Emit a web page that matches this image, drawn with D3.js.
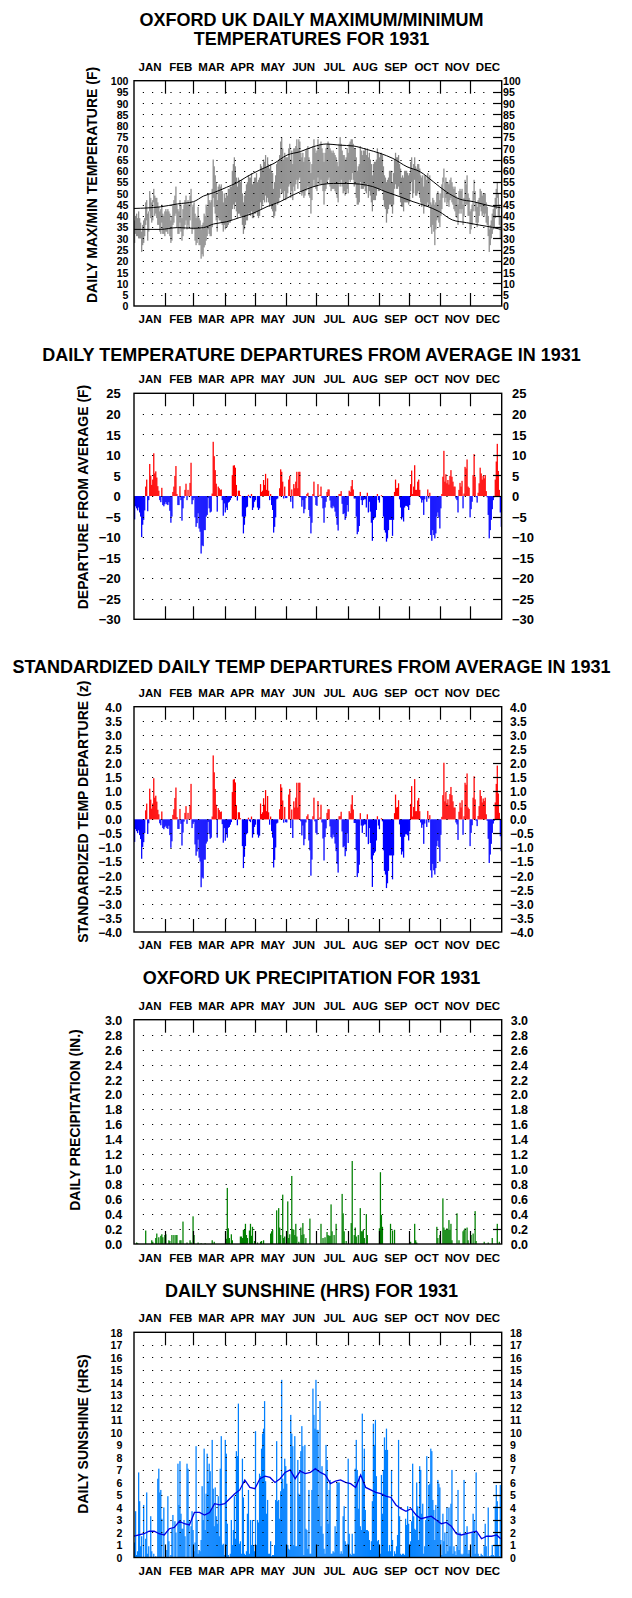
<!DOCTYPE html>
<html>
<head>
<meta charset="utf-8">
<script src="https://cdn.jsdelivr.net/npm/d3@7"></script>
<style>
    body { margin: 0; background: #fff; }
    text { font-family: "Liberation Sans", Arial, sans-serif; font-weight: bold; fill: #000; }
</style>
</head>
<body>
<div id="chart"></div>
<script>
// month names, month boundaries (day of year)
var months = ['JAN', 'FEB', 'MAR', 'APR', 'MAY', 'JUN', 'JUL', 'AUG', 'SEP', 'OCT', 'NOV', 'DEC'];
var monthStarts = [31, 59, 90, 120, 151, 181, 212, 243, 273, 304, 334];

// daily max / min temperature (F)
var tempMax = [
    38,40,41,39,42,39,37,33,36,38,39,46,47,41,42,51,48,46,47,52,49,48,48,46,44,42,43,45,41,40,42,
    43,42,43,42,41,38,40,45,47,49,53,45,43,42,47,45,39,43,45,47,49,45,47,45,49,52,44,45,
    46,41,39,40,44,39,38,34,36,37,41,40,45,44,50,47,46,47,52,65,62,58,55,47,53,54,53,54,51,46,50,
    48,50,49,52,52,53,53,60,63,66,62,57,53,57,56,55,56,50,46,49,51,54,55,58,57,57,59,54,55,57,
    57,59,55,56,57,63,62,61,65,64,67,62,66,63,61,63,60,59,52,55,58,63,64,65,67,73,75,70,65,68,66,
    66,66,70,72,65,69,63,70,70,71,74,70,74,73,68,66,68,64,66,69,70,71,66,64,59,63,71,74,70,68,
    69,74,71,72,73,70,68,64,68,70,72,73,72,70,69,68,69,68,67,66,64,62,72,75,72,69,67,67,65,66,70,
    68,72,73,74,74,72,70,70,66,60,62,63,71,69,67,69,69,70,67,70,66,68,65,63,58,63,64,64,65,70,68,
    66,68,68,67,62,58,57,55,56,57,60,60,60,55,59,65,68,66,66,67,63,61,57,58,57,60,60,60,59,58,
    59,64,66,61,63,66,62,61,63,63,61,58,57,58,53,58,58,56,59,57,58,46,45,48,47,45,46,50,51,50,47,
    50,54,57,61,55,57,55,55,54,56,57,55,53,52,53,49,48,45,51,52,51,52,45,48,56,54,58,50,48,42,
    43,45,51,56,51,46,44,47,48,52,51,49,50,50,50,46,44,40,34,36,38,41,43,44,48,52,55,50,45,40,35
];
var tempMin = [
    28,32,31,31,30,30,30,24,27,28,31,36,38,29,33,42,39,37,38,46,40,41,39,36,36,33,32,37,32,32,31,
    33,33,32,34,31,28,29,36,37,40,41,35,32,32,37,33,29,31,34,36,38,34,36,35,38,44,32,34,
    34,29,27,28,30,27,27,21,23,22,26,27,29,31,34,32,31,31,35,48,44,41,38,33,39,38,38,37,36,33,36,
    34,35,35,36,37,37,38,43,45,43,46,42,39,41,41,40,40,36,32,34,36,38,38,41,41,40,42,39,39,41,
    41,42,40,39,40,46,43,45,47,46,49,46,48,46,44,45,43,42,39,40,42,46,45,46,48,52,50,50,47,51,47,
    48,50,53,54,48,51,47,53,51,54,56,52,56,57,51,49,50,48,49,51,52,53,49,48,41,47,53,56,53,52,
    51,57,54,54,56,54,51,45,51,52,55,56,57,53,51,52,52,52,51,50,48,46,55,53,56,53,50,51,49,50,52,
    50,56,55,56,59,56,53,54,48,45,45,46,55,52,52,52,53,51,50,54,48,51,49,46,42,47,47,47,49,52,51,
    51,52,52,51,47,44,43,37,41,43,45,45,44,41,45,52,54,52,52,53,49,46,44,44,42,46,46,46,46,45,
    46,51,55,48,50,56,49,49,50,51,48,46,44,45,41,44,45,44,46,44,45,35,32,36,33,27,34,38,39,37,35,
    40,43,48,55,46,48,45,46,44,47,48,46,45,43,42,40,39,36,41,43,41,43,36,40,45,45,45,40,40,32,
    34,36,42,47,42,37,35,37,40,44,42,40,41,40,41,37,36,31,24,27,30,32,34,35,39,43,48,40,36,30,26
];

// normal max / min curves (day of year, F)
var normMaxDays = [0, 26, 43, 59, 69, 79, 92, 102, 112, 125, 139, 152, 165, 178, 191, 204, 218, 231, 244, 257, 271, 284, 297, 310, 323, 337, 350, 364];
var normMax = [43.3, 44.0, 45.3, 46.3, 48.8, 50.3, 52.7, 54.7, 57.4, 60.4, 63.3, 67.0, 68.5, 70.7, 71.9, 71.4, 71.0, 69.5, 67.8, 65.5, 61.8, 59.6, 55.2, 50.7, 47.5, 46.3, 44.8, 43.6];
var normMinDays = [0, 26, 43, 59, 69, 79, 92, 105, 118, 132, 145, 158, 171, 184, 198, 211, 224, 237, 250, 264, 277, 290, 303, 316, 330, 343, 356, 364];
var normMin = [34.0, 34.0, 34.8, 34.5, 34.8, 36.4, 37.4, 39.3, 41.1, 44.1, 46.3, 49.3, 51.8, 53.7, 54.4, 54.4, 54.1, 53.0, 50.7, 48.5, 46.3, 44.4, 41.9, 38.2, 37.0, 35.9, 34.9, 34.0];

// daily departure from average (F)
var tempDepart = [
    -5.7,-2.5,-3,-3.5,-2.8,-4,-5,-10,-7,-5.8,-3.5,2.3,4,-3.7,-1,7.8,5,2.7,4,10.4,5.5,6,4.5,2.4,1.3,-1,-1.5,2,-2.2,-2.5,-2,
    -1.5,-2,-2.2,-1.5,-3.6,-6.5,-5,1,2.3,4.9,7.3,0.5,-2.2,-2.2,2.4,-1,-6,-3,-0.5,1.5,3,-1,1.5,0,3.2,8.1,-2,-1,
    -0.5,-5.2,-7.5,-6.6,-4.2,-7.9,-8.7,-14,-12,-12.2,-8.3,-8.3,-5,-4.6,-0.5,-3,-4,-3.8,0.6,13.2,9.7,6.3,3,-3.8,2.3,1.9,1.5,1.6,-1,-4.8,-1.8,
    -4,-2.8,-3.4,-1.6,-1.4,-1,-0.5,5.1,7.4,7.5,6.9,2.7,-1.1,1.3,1.3,0.2,0,-5,-9.1,-7,-5,-2.8,-2.6,0.3,-0.3,-0.5,0.5,-3.4,-2.8,-1.4,
    -1,0,-2.8,-3.4,-3,2.9,1,1.3,3.9,2.7,5.4,1.5,4.3,1.3,-1,0.5,-2.2,-3.4,-8.9,-7.5,-5.2,-0.8,-0.6,0,1.9,6.5,5.9,3.5,-0.6,2.3,-0.5,
    -0.5,0,4,4.9,-1.4,1.6,-3,2.9,1.9,3.5,5.9,1.9,5.9,5.9,-0.3,-2.6,-1,-4.2,-3.2,-0.5,0.5,0.8,-3.4,-5,-9.1,-6.5,0.5,3.5,-0.3,-2.2,
    -2.4,2.9,0,0.3,2.3,-0.5,-3,-6.5,-2.8,-1.4,1,1.6,1.6,-1.1,-2.8,-3,-2.4,-2.8,-3.8,-5,-7,-8.4,0.5,0.5,1.2,-1.9,-4.4,-4.2,-5.8,-5,-2.2,
    -3.8,1.3,1,2.4,3.9,1.6,-0.6,-0.6,-5,-9.3,-8.7,-7.3,1,-1,-2.2,-1,-0.8,-0.8,-2.8,0.8,-4,-1.4,-3.8,-6.5,-10.9,-5.8,-5.4,-5.2,-3.4,0.5,-1,
    -1.6,0,0.2,-0.3,-5,-8.3,-8.9,-11.1,-10.3,-8.3,-5.8,-5.8,-5.8,-9.7,-5.8,1,4,1.9,2,3.1,-0.8,-2.8,-5.7,-5.2,-6.2,-2.8,-2.4,-2.4,-2.6,-3.4,
    -2.2,2.9,6.2,0.5,2.3,7.5,1.5,1.5,3.5,4,1.5,-0.6,-1.6,-1,-4.6,-0.8,0,-1.4,1.6,-0.6,0.8,-9.5,-10.9,-8.3,-9.5,-10.3,-9.1,-5,-4,-5.2,-7.9,
    -3,0.5,4.7,11,3.5,5.3,3.1,3.9,2.8,4.9,6.3,4.7,3.5,2.3,2.3,-0.6,-1,-4,1.5,3.2,2.3,3.7,-3,0.6,7.1,6.7,8.9,2.3,2,-5.2,
    -3.2,-1.4,5.1,10.2,4.7,-0.3,-1.6,0.8,3.1,6.9,5.5,4,4.9,4.3,5.1,1.2,-0.3,-4.6,-10.3,-8.3,-5.8,-3.2,-1,-0.3,4,8.4,12.7,6.1,1.5,-4,-7.5
];

// standardized departures (z)
var tempZ = [
    -0.80,-0.35,-0.42,-0.49,-0.39,-0.56,-0.70,-1.40,-0.98,-0.81,-0.49,0.32,0.56,-0.52,-0.14,1.09,0.70,0.38,0.56,1.46,0.77,0.84,0.63,0.34,0.18,-0.14,-0.21,0.28,-0.31,-0.35,-0.28,
    -0.23,-0.31,-0.34,-0.23,-0.56,-1.01,-0.78,0.16,0.36,0.76,1.13,0.08,-0.34,-0.34,0.37,-0.16,-0.93,-0.47,-0.08,0.23,0.47,-0.16,0.23,0,0.50,1.26,-0.31,-0.16,
    -0.09,-0.89,-1.29,-1.14,-0.72,-1.36,-1.50,-2.41,-2.06,-2.10,-1.43,-1.43,-0.86,-0.79,-0.09,-0.52,-0.69,-0.65,0.10,2.27,1.67,1.08,0.52,-0.65,0.40,0.33,0.26,0.28,-0.17,-0.83,-0.31,
    -0.76,-0.53,-0.65,-0.30,-0.27,-0.19,-0.10,0.97,1.41,1.43,1.31,0.51,-0.21,0.25,0.25,0.04,0,-0.95,-1.73,-1.33,-0.95,-0.53,-0.49,0.06,-0.06,-0.10,0.10,-0.65,-0.53,-0.27,
    -0.19,0,-0.54,-0.65,-0.58,0.56,0.19,0.25,0.75,0.52,1.04,0.29,0.83,0.25,-0.19,0.10,-0.42,-0.65,-1.71,-1.44,-1.00,-0.15,-0.12,0,0.36,1.25,1.13,0.67,-0.12,0.44,-0.10,
    -0.11,0,0.88,1.08,-0.31,0.35,-0.66,0.64,0.42,0.77,1.30,0.42,1.30,1.30,-0.07,-0.57,-0.22,-0.92,-0.70,-0.11,0.11,0.18,-0.75,-1.10,-2.00,-1.43,0.11,0.77,-0.07,-0.48,
    -0.54,0.65,0,0.07,0.52,-0.11,-0.68,-1.46,-0.63,-0.32,0.23,0.36,0.36,-0.25,-0.63,-0.68,-0.54,-0.63,-0.86,-1.13,-1.58,-1.89,0.11,0.11,0.27,-0.43,-0.99,-0.95,-1.31,-1.13,-0.50,
    -0.84,0.29,0.22,0.53,0.86,0.35,-0.13,-0.13,-1.10,-2.05,-1.91,-1.61,0.22,-0.22,-0.48,-0.22,-0.18,-0.18,-0.62,0.18,-0.88,-0.31,-0.84,-1.43,-2.40,-1.28,-1.19,-1.14,-0.75,0.11,-0.22,
    -0.35,0,0.04,-0.07,-1.10,-1.83,-1.96,-2.44,-2.27,-1.83,-1.28,-1.28,-1.28,-2.13,-1.28,0.22,0.88,0.42,0.44,0.68,-0.18,-0.62,-1.25,-1.14,-1.36,-0.62,-0.53,-0.53,-0.57,-0.75,
    -0.42,0.55,1.18,0.10,0.44,1.43,0.29,0.29,0.67,0.76,0.29,-0.11,-0.30,-0.19,-0.87,-0.15,0,-0.27,0.30,-0.11,0.15,-1.81,-2.07,-1.58,-1.81,-1.96,-1.73,-0.95,-0.76,-0.99,-1.50,
    -0.55,0.09,0.86,2.01,0.64,0.97,0.57,0.71,0.51,0.90,1.15,0.86,0.64,0.42,0.42,-0.11,-0.18,-0.73,0.27,0.59,0.42,0.68,-0.55,0.11,1.30,1.23,1.63,0.42,0.37,-0.95,
    -0.48,-0.21,0.77,1.53,0.71,-0.05,-0.24,0.12,0.47,1.04,0.83,0.60,0.74,0.65,0.77,0.18,-0.05,-0.69,-1.55,-1.25,-0.87,-0.48,-0.15,-0.05,0.60,1.26,1.91,0.92,0.23,-0.60,-1.13
];

// daily precipitation (in.)
var precip = [
    0,0,.02,.01,0,0,0,0,0,0,0,.18,0,0,0,0,0,.05,.03,0,0,.08,.14,0,.09,0,.11,.13,.09,0,.12,
    .13,0,0,.05,.04,0,.12,0,.12,0,.12,.12,0,0,.05,.05,0,.30,0,0,0,.02,0,0,.05,.02,0,.37,
    .12,0,0,0,.02,0,0,.01,0,0,0,.01,0,0,0,0,0,0,.05,0,.03,0,0,0,0,0,0,0,0,0,0,
    0,.07,.75,.21,.08,0,.13,.05,0,0,0,0,0,0,0,.10,.10,.08,.19,.19,.27,.12,.08,0,.18,.27,.11,.23,0,.04,
    0,0,.02,0,0,.03,.04,0,.05,0,0,0,0,0,0,.14,.17,.19,0,0,0,.45,0,.48,.22,.12,0,.66,.08,.10,0,
    .12,.57,.08,.13,0,.91,.20,.19,.12,.27,.10,0,.03,0,.22,.12,.28,.13,0,.08,0,0,0,.34,0,0,0,0,0,0,
    0,0,0,0,.27,0,.08,0,.09,0,.16,.12,.11,.11,.53,.17,0,.12,0,.27,0,0,0,0,0,.67,.41,.17,0,.04,0,
    0,0,0,.28,1.11,0,.12,.22,.10,0,.12,0,.48,.17,.17,.19,.08,0,.40,.12,0,0,0,0,0,0,0,0,0,0,0,
    .21,.96,.39,.23,0,0,0,0,0,0,0,.27,0,.18,0,.19,0,0,0,0,0,0,0,0,0,0,0,0,0,0,
    0,.03,0,0,0,.27,.05,.02,0,0,0,0,0,0,0,0,0,0,0,0,0,0,0,0,0,0,0,.23,.08,0,.12,
    0,0,.61,.22,.19,.19,.21,.19,.32,.19,.27,.05,0,0,0,0,.41,0,.05,0,0,0,.17,.19,.21,0,.22,.05,0,0,
    .12,0,.14,0,.44,.04,0,0,0,0,0,0,0,.03,0,0,0,.02,0,0,0,.08,0,0,0,0,.27,0,.03,0,0
];

// daily sunshine (hrs)
var sunshine = [
    1.2,3.7,0.2,0.5,6.8,4.5,0.9,1.7,0,4.2,0,1.5,5.2,0.3,0.9,0,3.3,0.5,0,0.3,0,0.1,0,6.3,7.1,5.2,5.4,3.1,0,4.0,0,
    0,0.6,4.9,1.3,0,0.2,2.3,3.4,0,2.9,2.0,0,7.5,4.2,7.7,3.5,2.3,2.3,3.0,1.7,0,7.5,7.1,2.9,0,2.5,3.7,2.2,
    0.5,1.2,8.9,3.0,0.3,0.6,0.5,1.4,5.7,3.0,8.7,2.2,5.1,8.3,6.1,7.5,6.9,3.9,9.4,5.5,2.5,5.6,3.3,2.7,4.9,1.7,7.1,9.7,1.0,1.1,0.2,
    9.4,8.3,2.7,0.2,0,0.3,3.0,1.0,2.2,4.9,1.5,8.5,8.1,12.3,1.1,1.3,0.3,7.9,4.8,0.3,0.2,0.5,3.5,5.4,0.3,3.0,1.0,3.0,1.0,0.5,
    10.1,1.0,3.0,2.8,6.7,6.5,8.7,9.9,10.3,12.5,6.1,3.5,4.6,0.3,0.3,1.3,0.1,0.2,0.2,1.0,4.6,9.3,4.5,4.6,3.1,5.3,14.2,6.3,5.5,7.9,7.3,
    5.9,1.0,0.7,0.6,11.4,9.9,8.9,1.0,9.7,0.9,0.9,7.8,5.1,4.9,8.5,10.5,8.9,0.2,9.0,2.3,2.2,0.7,5.4,0.3,0.3,5.4,13.5,11.4,10.3,14.2,
    10.2,10.2,4.1,12.5,2.5,7.3,1.9,0.7,0.3,9.0,7.8,2.7,5.4,6.2,0.3,0.3,0.5,0.4,2.5,2.0,6.0,6.0,6.0,0.3,0.5,0.3,3.3,4.1,1.3,1.0,1.1,
    7.9,1.9,0.3,0.2,1.9,0.3,0.3,7.1,9.4,7.0,3.9,6.5,2.5,2.2,11.5,6.9,8.7,3.8,2.2,2.2,2.1,1.4,0.6,1.3,4.5,10.7,9.0,11.0,6.5,1.3,1.4,
    0.8,0.3,6.6,3.5,7.0,9.6,8.6,10.3,8.6,0.5,1.0,0.5,7.0,1.4,0.1,0.5,0.3,0.9,1.8,9.4,3.3,0.3,0.2,0.3,0.3,0.2,3.1,2.6,4.1,2.7,
    0.3,1.3,2.9,7.5,3.3,2.3,2.2,6.0,4.1,1.4,7.3,7.0,3.5,4.3,0.3,0.9,3.0,8.1,3.3,5.8,5.9,8.7,8.5,4.6,3.8,1.4,4.2,2.9,6.2,5.9,5.6,
    1.4,0.2,3.5,1.3,2.0,0.3,4.0,0.5,4.0,0.9,4.3,7.0,0.3,0.9,0.5,0.2,0.9,5.4,0.6,2.0,0.3,0.2,0.3,6.2,0.9,1.9,2.5,0.3,0.6,0.3,
    0.1,2.0,3.5,3.0,0.3,6.8,1.9,0.3,0.1,0.1,0.3,0.2,0.1,0.9,2.7,0.9,0.1,4.0,0.1,0.1,0.2,1.0,0.2,0.1,4.1,5.8,4.5,1.0,0.1,5.8,4.2
];

// average sunshine line, one value every 5 days
var sunNormal = [
    1.7,1.8,1.9,2.1,2.1,1.9,1.8,2.3,2.4,2.9,2.7,2.6,3.6,3.6,3.4,3.6,4.3,4.2,4.3,4.7,5.1,5.4,6.2,5.6,5.5,
    6.3,6.5,6.4,6.0,6.3,6.8,7.0,6.3,6.9,6.7,6.8,7.1,6.8,6.6,5.9,6.1,6.2,6.0,5.9,5.6,6.6,5.6,5.4,5.2,5.1,
    4.9,4.8,4.2,3.9,3.7,3.9,3.4,3.1,3.2,3.3,3.0,2.7,2.8,2.5,1.9,1.8,1.9,2.0,2.1,1.5,1.7,1.7,1.8,1.5
];

// -----------------------------------------------

var svgWidth = 632;
var svgHeight = 1598;

var svg = d3.select('#chart')
    .append('svg')
    .attr('width', svgWidth)
    .attr('height', svgHeight);

// shared day-of-year scale and month label positions
var xScale = d3.scaleLinear().domain([0, 365]).range([134, 501.7]);
var monthScale = d3.scalePoint().domain(months).range([150, 488]);
var dayW = xScale(1) - xScale(0);

function tickList(lo, hi, step) {
    var n = Math.round((hi - lo) / step);
    return d3.range(n + 1).map(i => +(lo + i * step).toFixed(2));
}

// titles, month names, axis labels; returns y scale and layers
function drawPanel(p) {
    var y = d3.scaleLinear().domain(p.domain).range([p.bottom, p.top]);
    var g = svg.append('g');

    p.title.forEach((t, i) => {
        g.append('text')
            .attr('x', 311.5)
            .attr('y', p.titleY + i * 19.7)
            .attr('text-anchor', 'middle')
            .attr('dy', '0.36em')
            .style('font-size', '18px')
            .text(t);
    });

    [p.monthTop, p.monthBottom].forEach(my => {
        if (my == null) return;
        g.append('g').selectAll('text')
            .data(months)
            .enter()
            .append('text')
            .attr('x', d => monthScale(d))
            .attr('y', my)
            .attr('text-anchor', 'middle')
            .attr('dy', '0.36em')
            .style('font-size', '11.5px')
            .text(d => d);
    });

    g.append('text')
        .attr('transform', `translate(${p.labelX}, ${p.labelY}) rotate(-90)`)
        .attr('text-anchor', 'middle')
        .attr('dy', '0.36em')
        .style('font-size', '14px')
        .text(p.label);

    var ticks = tickList(p.domain[0], p.domain[1], p.step);
    var fmt = p.fmt ? d3.format(p.fmt) : d3.format('d');

    var leftAxis = d3.axisLeft(y).tickValues(ticks).tickSize(0).tickPadding(0).tickFormat(fmt);
    var rightAxis = d3.axisRight(y).tickValues(ticks).tickSize(0).tickPadding(0).tickFormat(fmt);

    [[leftAxis, p.leftX], [rightAxis, p.rightX]].forEach(a => {
        var ag = g.append('g')
            .attr('transform', `translate(${a[1]}, 0)`)
            .call(a[0]);
        ag.select('.domain').remove();
        ag.selectAll('text')
            .attr('dy', '0.36em')
            .style('font-size', p.tickSize);
    });

    var marks = g.append('g');
    var over = g.append('g');
    var inner = ticks.slice(1, -1);

    // dotted grid rows
    over.append('g').selectAll('line')
        .data(inner)
        .enter()
        .append('line')
        .attr('x1', 142.8)
        .attr('x2', 492)
        .attr('y1', d => Math.round(y(d)) + 0.5)
        .attr('y2', d => Math.round(y(d)) + 0.5)
        .attr('stroke', '#000')
        .attr('stroke-width', 1)
        .attr('stroke-dasharray', '1.2 8');

    // right-hand inward ticks
    over.append('g').selectAll('line')
        .data(inner)
        .enter()
        .append('line')
        .attr('x1', 493)
        .attr('x2', 501.7)
        .attr('y1', d => Math.round(y(d)) + 0.5)
        .attr('y2', d => Math.round(y(d)) + 0.5)
        .attr('stroke', '#000')
        .attr('stroke-width', 1.2);

    // month ticks, top and bottom
    [[p.top, p.top + 13], [p.bottom - 13, p.bottom]].forEach(r => {
        over.append('g').selectAll('line')
            .data(monthStarts)
            .enter()
            .append('line')
            .attr('x1', d => Math.round(xScale(d)) + 0.5)
            .attr('x2', d => Math.round(xScale(d)) + 0.5)
            .attr('y1', r[0])
            .attr('y2', r[1])
            .attr('stroke', '#000')
            .attr('stroke-width', 1.2);
    });

    over.append('rect')
        .attr('x', xScale(0))
        .attr('y', p.top)
        .attr('width', xScale(365) - xScale(0))
        .attr('height', p.bottom - p.top)
        .attr('fill', 'none')
        .attr('stroke', '#000')
        .attr('stroke-width', 1.4);

    return { y: y, marks: marks };
}

// bars from zero for signed / positive series (one per day, index = day)
function drawBars(layer, y, values, colour) {
    layer.selectAll(null)
        .data(values)
        .enter()
        .append('rect')
        .attr('x', (d, i) => xScale(i))
        .attr('width', dayW + 0.25)
        .attr('y', d => y(Math.max(0, d)))
        .attr('height', d => Math.abs(y(d) - y(0)))
        .attr('fill', typeof colour === 'function' ? colour : () => colour);
}

var signColour = d => d >= 0 ? '#ff0000' : '#0000ff';

// panel 1: max/min temperatures
var p1 = drawPanel({
    title: ['OXFORD UK DAILY MAXIMUM/MINIMUM', 'TEMPERATURES FOR 1931'], titleY: 19.3,
    monthTop: 66.7, monthBottom: 319,
    top: 80.7, bottom: 306, domain: [0, 100], step: 5,
    leftX: 128.5, rightX: 503, tickSize: '10.6px',
    label: 'DAILY MAX/MIN TEMPERATURE (F)', labelX: 91.7, labelY: 185
});

p1.marks.selectAll(null)
    .data(tempMax)
    .enter()
    .append('rect')
    .attr('x', (d, i) => xScale(i))
    .attr('width', dayW + 0.25)
    .attr('y', d => p1.y(d))
    .attr('height', (d, i) => p1.y(tempMin[i]) - p1.y(d))
    .attr('fill', '#8c8c8c');

var normLine = d3.line().curve(d3.curveMonotoneX);
p1.marks.append('path')
    .attr('d', normLine(normMax.map((v, i) => [xScale(normMaxDays[i]), p1.y(v)])))
    .attr('fill', 'none')
    .attr('stroke', '#000')
    .attr('stroke-width', 1);
p1.marks.append('path')
    .attr('d', normLine(normMin.map((v, i) => [xScale(normMinDays[i]), p1.y(v)])))
    .attr('fill', 'none')
    .attr('stroke', '#000')
    .attr('stroke-width', 1);

// panel 2: departures
var p2 = drawPanel({
    title: ['DAILY TEMPERATURE DEPARTURES FROM AVERAGE IN 1931'], titleY: 354.3,
    monthTop: 379.3, monthBottom: null,
    top: 393.3, bottom: 619.3, domain: [-30, 25], step: 5,
    leftX: 120.7, rightX: 512, tickSize: '13px',
    label: 'DEPARTURE FROM AVERAGE (F)', labelX: 83, labelY: 497
});
drawBars(p2.marks, p2.y, tempDepart, signColour);

// panel 3: standardized departures
var p3 = drawPanel({
    title: ['STANDARDIZED DAILY TEMP DEPARTURES FROM AVERAGE IN 1931'], titleY: 667,
    monthTop: 692.7, monthBottom: 945.3,
    top: 706.7, bottom: 932, domain: [-4, 4], step: 0.5, fmt: '.1f',
    leftX: 122, rightX: 510, tickSize: '12px',
    label: 'STANDARDIZED TEMP DEPARTURE (z)', labelX: 82.7, labelY: 811.7
});
drawBars(p3.marks, p3.y, tempZ, signColour);

// panel 4: precipitation
var p4 = drawPanel({
    title: ['OXFORD UK PRECIPITATION FOR 1931'], titleY: 977.7,
    monthTop: 1005.7, monthBottom: 1258,
    top: 1019.7, bottom: 1244, domain: [0, 3], step: 0.2, fmt: '.1f',
    leftX: 122.3, rightX: 510.7, tickSize: '12.5px',
    label: 'DAILY PRECIPITATION (IN.)', labelX: 75, labelY: 1120
});
drawBars(p4.marks, p4.y, precip, '#008000');

// panel 5: sunshine
var p5 = drawPanel({
    title: ['DAILY SUNSHINE (HRS) FOR 1931'], titleY: 1290.7,
    monthTop: 1318.3, monthBottom: 1570.5,
    top: 1332.3, bottom: 1557.5, domain: [0, 18], step: 1,
    leftX: 122.3, rightX: 510, tickSize: '10.6px',
    label: 'DAILY SUNSHINE (HRS)', labelX: 82.7, labelY: 1434
});
drawBars(p5.marks, p5.y, sunshine, '#0080ff');

p5.marks.append('path')
    .attr('d', d3.line()(sunNormal.map((v, i) => [xScale(Math.min(i * 5, 364)), p5.y(v)])))
    .attr('fill', 'none')
    .attr('stroke', '#0000e0')
    .attr('stroke-width', 1.3);
</script>
</body>
</html>
